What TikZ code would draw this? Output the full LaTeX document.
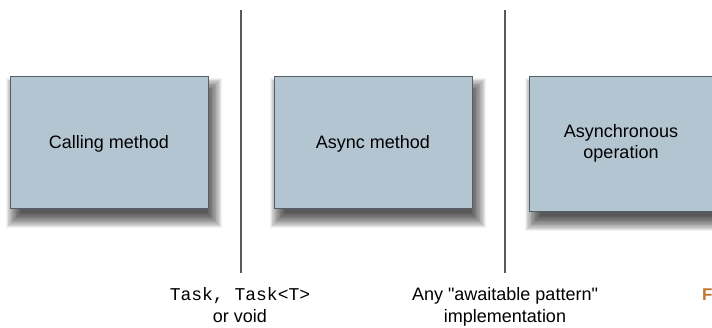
\documentclass[tikz,border=0pt]{standalone}
\usepackage{fontspec}
\setmainfont{Liberation Sans}[Ligatures=TeXOff]
\newfontfamily\monof{Liberation Mono}[Ligatures=TeXOff]
\usetikzlibrary{calc}
\definecolor{boxfill}{RGB}{180,197,210}
\definecolor{boxline}{RGB}{85,95,105}
\definecolor{divline}{RGB}{90,90,90}
\definecolor{figorange}{RGB}{192,118,48}
\tikzset{
  procbox/.style={draw=boxline, line width=0.9pt, fill=boxfill, inner sep=0pt, align=center},
  lbl/.style={font=\fontsize{18}{22}\selectfont, align=center, inner sep=0pt, anchor=base},
  divider/.style={draw=divline, line width=1.3pt}
}
\newcommand{\softshadow}[4]{%
  \foreach \k in {0,...,19}{%
    \fill[black, opacity=0.05] (#1-9+\k*0.8+5, #2-9+\k*0.8+11) rectangle (#3+9-\k*0.8+5, #4+9-\k*0.8+11);
  }%
}
\begin{document}
\begin{tikzpicture}[x=1pt, y=-1pt]
\useasboundingbox (0,0) rectangle (712,328);
\clip (0,0) rectangle (712,328);
% shadows
\softshadow{10}{76}{208}{208}
\softshadow{274}{76}{472}{208}
\softshadow{529}{76}{760}{211}
% boxes
\node[procbox, minimum width=198pt, minimum height=132pt] (calling) at (109,142) {};
\node[procbox, minimum width=198pt, minimum height=132pt] (async) at (373,142) {};
\node[procbox, minimum width=231pt, minimum height=135pt] (asyncop) at (644.5,143.5) {};
% box labels
\node[lbl] (t1) at (109,148.5) {Calling method};
\node[lbl] (t2) at (373,148.5) {Async method};
\node[lbl] (t3a) at (621,138) {Asynchronous};
\node[lbl] (t3b) at (621,159) {operation};
% dividers
\coordinate (d1a) at (241,10);
\coordinate (d1b) at (241,273);
\coordinate (d2a) at (505,10);
\coordinate (d2b) at (505,273);
\draw[divider] (d1a) -- (d1b);
\draw[divider] (d2a) -- (d2b);
% bottom labels
\node[lbl] (b1) at (240,301) {{\monof Task, Task<T>}};
\node[lbl] (b1b) at (240,323) {or void};
\node[lbl] (b2) at (505,301) {Any "awaitable pattern"};
\node[lbl] (b2b) at (505,323) {implementation};
\node[font=\bfseries\fontsize{17}{20}\selectfont, text=figorange, anchor=base west, inner sep=0pt] (fig) at (702,301) {F};
\end{tikzpicture}
\end{document}
